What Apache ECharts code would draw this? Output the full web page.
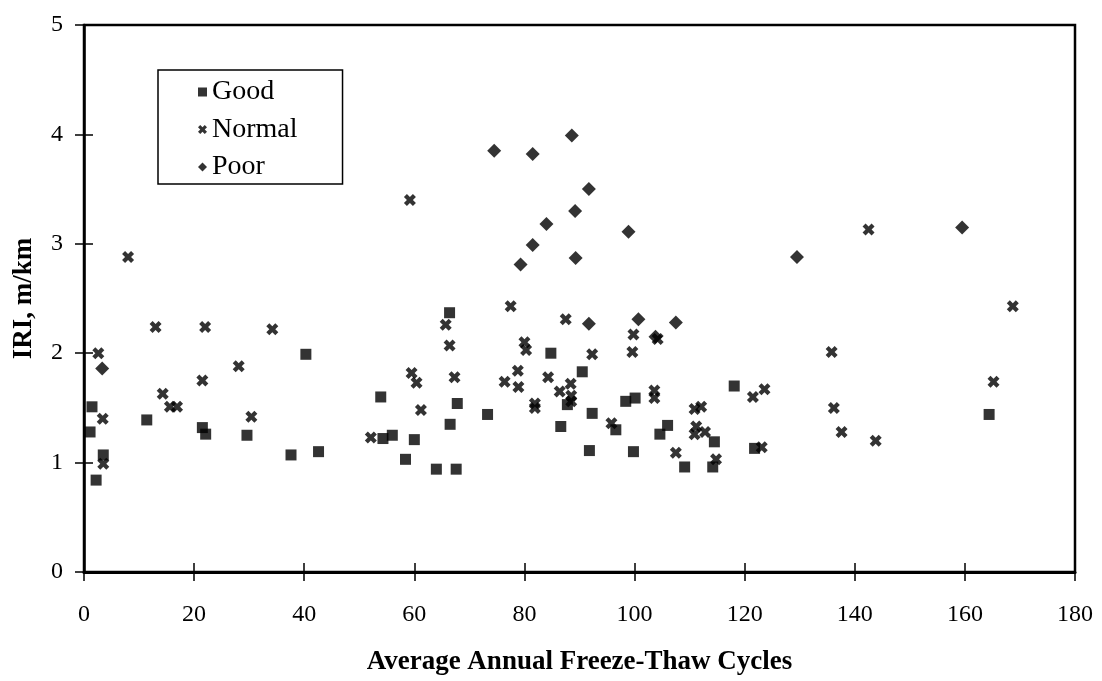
<!DOCTYPE html>
<html>
<head>
<meta charset="utf-8">
<script src="https://cdn.jsdelivr.net/npm/echarts@6/dist/echarts.min.js"></script>
<style>
html,body{margin:0;padding:0;background:#fff;}
#c{width:1102px;height:681px;}
</style>
</head>
<body>
<div id="c"></div>
<script>
// Average annual freeze-thaw cycles (x) vs IRI in m/km (y)
const goodPts = [
  [1.1,1.28],[1.45,1.51],[2.2,0.84],[3.5,1.07],[11.4,1.39],[21.5,1.32],[22.1,1.26],[29.6,1.25],
  [37.6,1.07],[40.3,1.99],[42.6,1.10],[53.9,1.60],[54.3,1.22],[56.0,1.25],[58.4,1.03],[60.0,1.21],
  [64.0,0.94],[66.4,2.37],[66.5,1.35],[67.6,0.94],[67.8,1.54],[73.3,1.44],[84.8,2.00],[86.6,1.33],
  [87.8,1.53],[90.5,1.83],[91.8,1.11],[92.3,1.45],[96.6,1.30],[98.4,1.56],[99.8,1.10],[100.1,1.59],
  [104.6,1.26],[106.0,1.34],[109.1,0.96],[114.2,0.96],[114.5,1.19],[118.1,1.70],[121.8,1.13],[164.4,1.44]
];
const normalPts = [
  [2.6,2.00],[3.4,1.40],[3.5,0.99],[8.0,2.88],[13.0,2.24],[14.3,1.63],[15.6,1.51],[16.9,1.51],
  [21.5,1.75],[22.0,2.24],[28.1,1.88],[30.4,1.42],[34.2,2.22],[52.1,1.23],[59.2,3.40],[59.5,1.82],
  [60.4,1.73],[61.2,1.48],[65.7,2.26],[66.4,2.07],[67.3,1.78],[76.4,1.74],[77.5,2.43],[78.8,1.84],
  [78.9,1.69],[80.0,2.10],[80.3,2.03],[81.9,1.54],[81.9,1.50],[84.3,1.78],[86.4,1.65],[87.5,2.31],
  [88.4,1.72],[88.5,1.61],[88.5,1.56],[92.3,1.99],[95.8,1.36],[99.6,2.01],[99.8,2.17],[103.6,1.66],
  [103.6,1.59],[104.2,2.13],[107.5,1.09],[110.9,1.49],[112.1,1.51],[111.2,1.33],[110.9,1.26],[112.8,1.28],
  [114.8,1.03],[121.5,1.60],[123.6,1.67],[123.1,1.14],[135.8,2.01],[136.2,1.50],[137.6,1.28],[142.5,3.13],
  [143.8,1.20],[165.2,1.74],[168.7,2.43]
];
const poorPts = [
  [3.3,1.86],[74.5,3.85],[79.3,2.81],[81.5,2.99],[81.5,3.82],[84.0,3.18],[88.6,3.99],[89.2,3.30],
  [89.3,2.87],[91.7,3.50],[91.7,2.27],[98.9,3.11],[100.7,2.31],[103.8,2.15],[107.5,2.28],[129.5,2.88],
  [159.5,3.15]
];
const seriesNames = ['Good','Normal','Poor'];
const xTitle = 'Average Annual Freeze-Thaw Cycles';
const yTitle = 'IRI, m/km';
const xMin = 0, xMax = 180, xStep = 20;
const yMin = 0, yMax = 5, yStep = 1;

const INK = '#000';
const crossPath = 'path://M0,2.5 L2.5,0 L5,2.5 L7.5,0 L10,2.5 L7.5,5 L10,7.5 L7.5,10 L5,7.5 L2.5,10 L0,7.5 L2.5,5 Z';
const serif = '"Liberation Serif", "DejaVu Serif", serif';

const chart = echarts.init(document.getElementById('c'), null, {renderer:'canvas'});

function xAx(main){
  return {
    type:'value', min:xMin, max:xMax, interval:xStep, position:'bottom',
    axisLine:{show:main, onZero:false, lineStyle:{color:INK, width:3}},
    axisTick:{show:true, inside:!main, length:9, lineStyle:{color:INK, width:1.5}},
    axisLabel:{show:main, margin:31, color:INK, fontFamily:serif, fontSize:24},
    splitLine:{show:false},
    name: main ? xTitle : '', nameLocation:'middle', nameGap:77,
    nameTextStyle:{color:INK, fontFamily:serif, fontSize:27, fontWeight:'bold'}
  };
}
function yAx(main){
  return {
    type:'value', min:yMin, max:yMax, interval:yStep, position:'left',
    axisLine:{show:main, onZero:false, lineStyle:{color:INK, width:2.5}},
    axisTick:{show:true, inside:!main, length:9, lineStyle:{color:INK, width:1.5}},
    axisLabel:{show:main, margin:21, color:INK, fontFamily:serif, fontSize:24},
    splitLine:{show:false},
    name: main ? yTitle : '', nameLocation:'middle', nameGap:46,
    nameTextStyle:{color:INK, fontFamily:serif, fontSize:27, fontWeight:'bold'}
  };
}

chart.setOption({
  backgroundColor:'#fff',
  animation:false,
  grid:{left:84, right:27, top:25, bottom:108, show:true, borderColor:INK, borderWidth:2.5, backgroundColor:'transparent'},
  xAxis:[xAx(true), xAx(false)],
  yAxis:[yAx(true), yAx(false)],
  legend:{
    orient:'vertical', left:158, top:70,
    data:[
      {name:seriesNames[0], icon:'rect'},
      {name:seriesNames[1], icon:crossPath},
      {name:seriesNames[2], icon:'diamond'}
    ],
    itemWidth:9, itemHeight:9, itemGap:9.5,
    padding:[8,45,3,40],
    borderColor:INK, borderWidth:1.5,
    textStyle:{color:INK, fontFamily:serif, fontSize:28, lineHeight:28},
    selectedMode:false
  },
  series:[
    {name:seriesNames[0], type:'scatter', data:goodPts, symbol:'rect', symbolSize:11,
     itemStyle:{color:INK}},
    {name:seriesNames[1], type:'scatter', data:normalPts, symbol:crossPath, symbolSize:12,
     itemStyle:{color:INK}},
    {name:seriesNames[2], type:'scatter', data:poorPts, symbol:'diamond', symbolSize:14,
     itemStyle:{color:INK}}
  ]
});
</script>
</body>
</html>
